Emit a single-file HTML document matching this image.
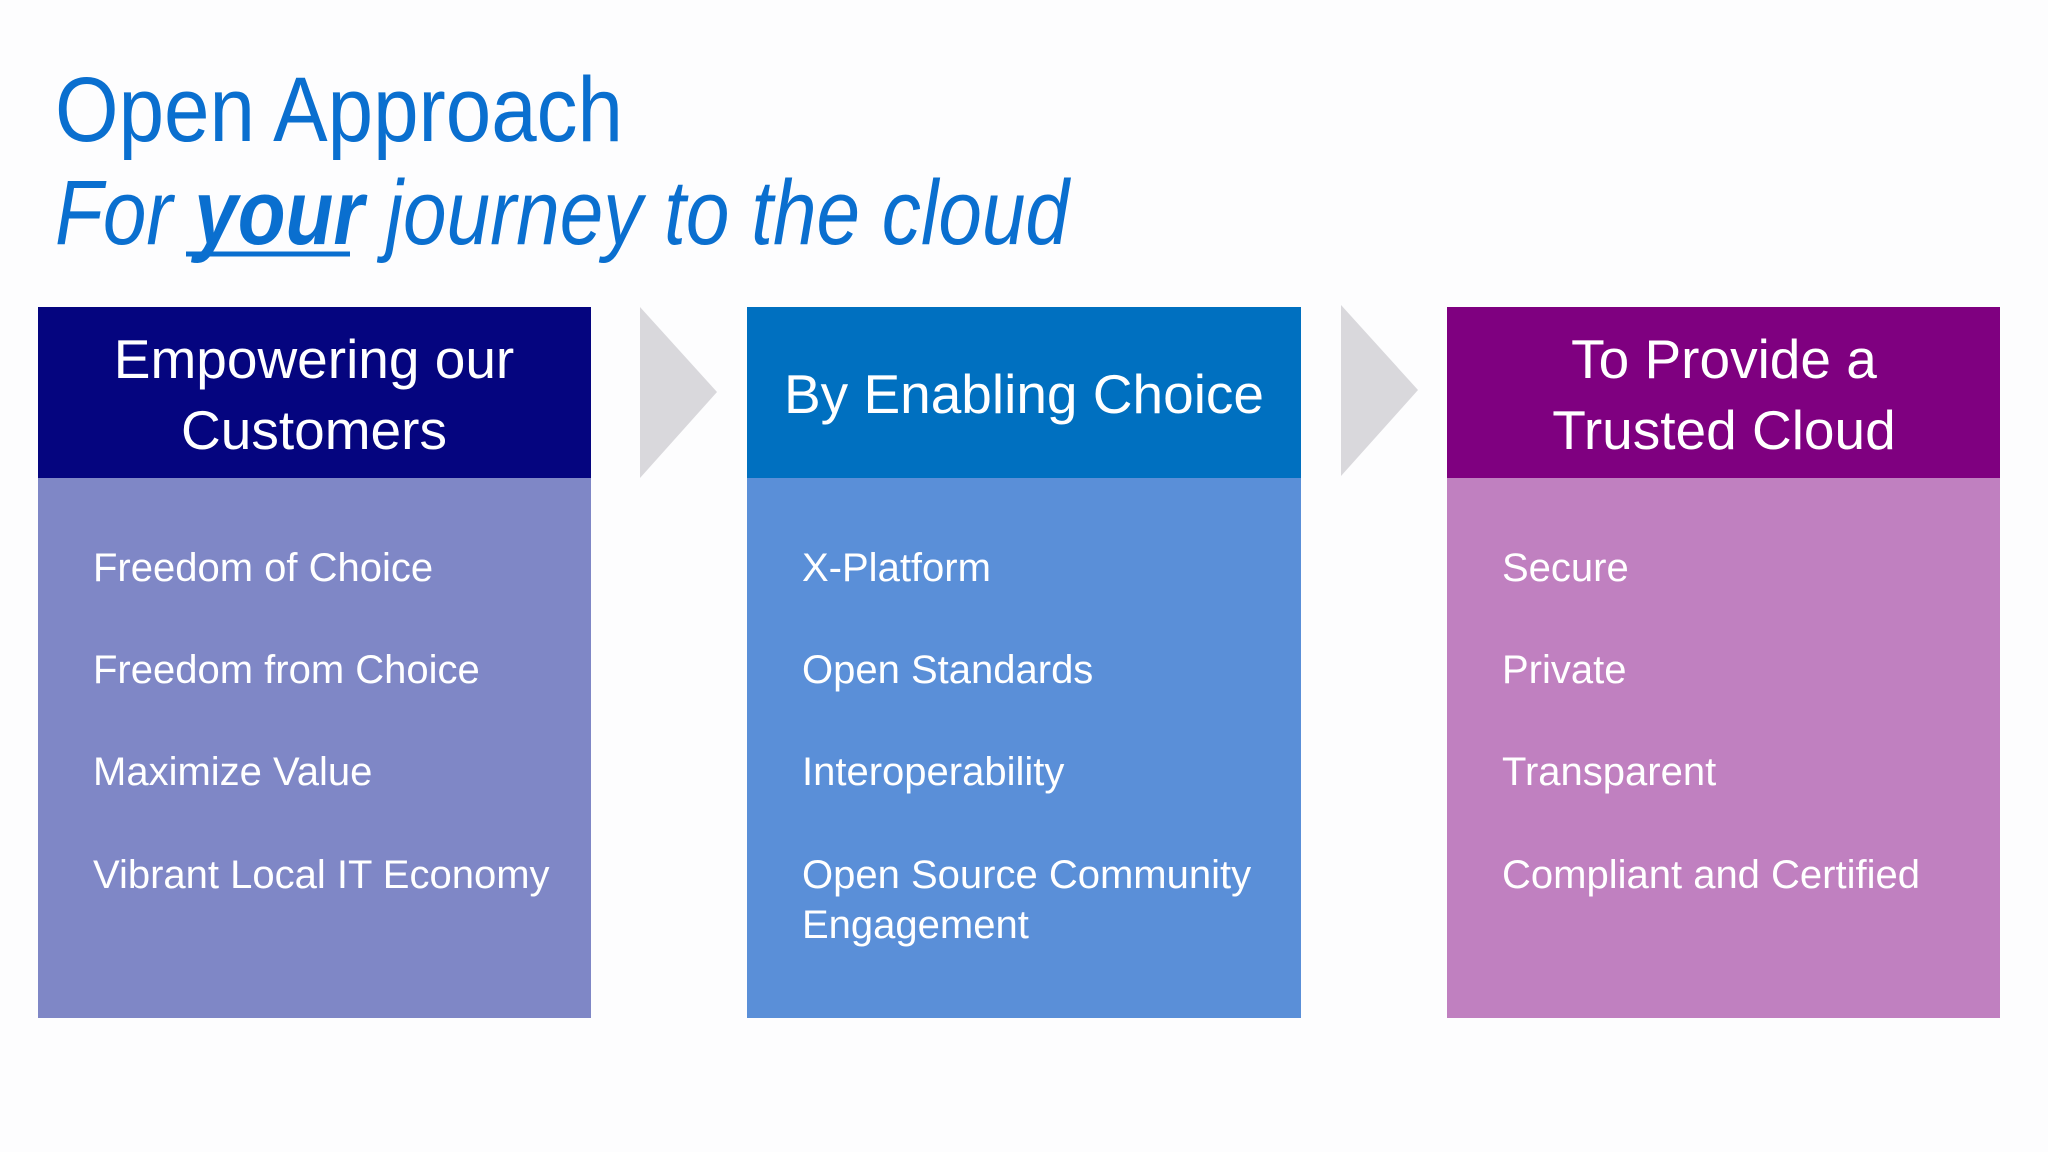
<!DOCTYPE html>
<html><head><meta charset="utf-8"><style>
html,body{margin:0;padding:0;background:#fdfdfe;}
svg{display:block;}
text{font-family:"Liberation Sans",sans-serif;}
</style></head><body>
<svg width="2048" height="1152" viewBox="0 0 2048 1152" xmlns="http://www.w3.org/2000/svg">
<rect width="2048" height="1152" fill="#fdfdfe"/>
<text x="55" y="141" font-size="92" fill="#0a6fcf" textLength="568" lengthAdjust="spacingAndGlyphs">Open Approach</text>
<text x="55" y="244" font-size="92" fill="#0a6fcf" font-style="italic" textLength="1014" lengthAdjust="spacingAndGlyphs">For <tspan font-weight="bold">your</tspan> journey to the cloud</text>
<line x1="186" y1="254" x2="350" y2="254" stroke="#0a6fcf" stroke-width="5"/>

<rect x="38" y="307" width="553" height="171" fill="#05057f"/>
<rect x="38" y="478" width="553" height="540" fill="#7f87c6"/>
<rect x="747" y="307" width="554" height="171" fill="#0070c0"/>
<rect x="747" y="478" width="554" height="540" fill="#5a8fd8"/>
<rect x="1447" y="307" width="553" height="171" fill="#7f0080"/>
<rect x="1447" y="478" width="553" height="540" fill="#c080c0"/>

<polygon points="640,307 717,392 640,478" fill="#d9d8dc"/>
<polygon points="1341,305 1418,390 1341,476" fill="#d9d8dc"/>

<g fill="#fff" font-size="55" text-anchor="middle">
<text x="314" y="378">Empowering our</text>
<text x="314" y="449">Customers</text>
<text x="1024" y="413">By Enabling Choice</text>
<text x="1724" y="378">To Provide a</text>
<text x="1724" y="449">Trusted Cloud</text>
</g>
<g fill="#fff" font-size="40">
<text x="93" y="581">Freedom of Choice</text>
<text x="93" y="683">Freedom from Choice</text>
<text x="93" y="785">Maximize Value</text>
<text x="93" y="888">Vibrant Local IT Economy</text>
<text x="802" y="581">X-Platform</text>
<text x="802" y="683">Open Standards</text>
<text x="802" y="785">Interoperability</text>
<text x="802" y="888">Open Source Community</text>
<text x="802" y="938">Engagement</text>
<text x="1502" y="581">Secure</text>
<text x="1502" y="683">Private</text>
<text x="1502" y="785">Transparent</text>
<text x="1502" y="888">Compliant and Certified</text>
</g>
</svg>
</body></html>
